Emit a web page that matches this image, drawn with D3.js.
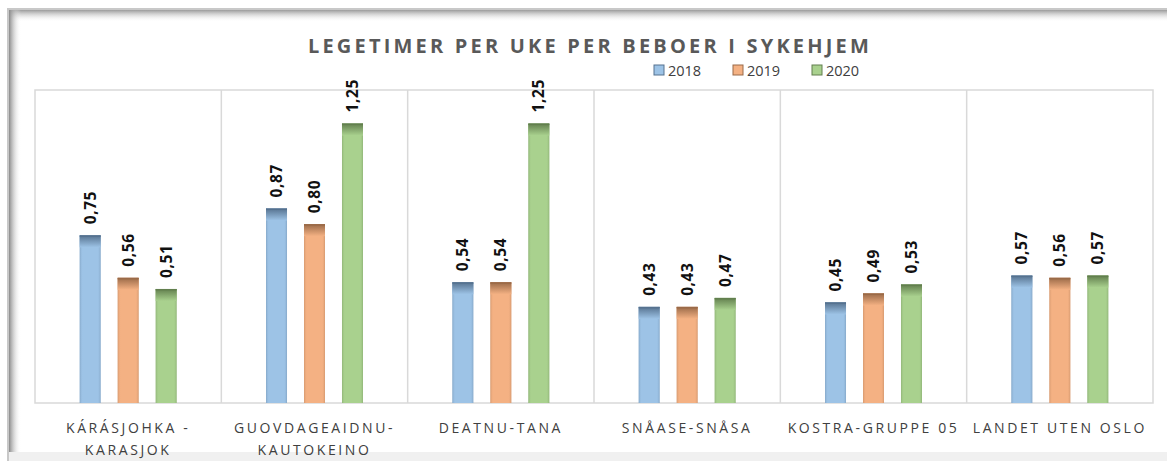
<!DOCTYPE html>
<html>
<head>
<meta charset="utf-8">
<script src="https://cdn.jsdelivr.net/npm/d3@7"></script>
<style>
  body { margin: 0; background: #fff; }
  text { font-family: "Open Sans", "Liberation Sans", sans-serif; }
</style>
</head>
<body>
<div id="chart"></div>
<script>
var categories = [["KÁRÁSJOHKA -", "KARASJOK"], ["GUOVDAGEAIDNU-", "KAUTOKEINO"], ["DEATNU-TANA"],
                  ["SNÅASE-SNÅSA"], ["KOSTRA-GRUPPE 05"], ["LANDET UTEN OSLO"]];
var years = ["2018", "2019", "2020"];
var v2018 = [0.75, 0.87, 0.54, 0.43, 0.45, 0.57];
var v2019 = [0.56, 0.80, 0.54, 0.43, 0.49, 0.56];
var v2020 = [0.51, 1.25, 1.25, 0.47, 0.53, 0.57];
var series = [v2018, v2019, v2020];

var colors = [
  {light: "#9dc3e6", dark: "#56728f"},
  {light: "#f4b183", dark: "#9a6a48"},
  {light: "#a9d18e", dark: "#627f4e"}
];

var W = 1167, H = 461;
var plot = {left: 35, right: 1153, top: 90, bottom: 403};
var groupW = 97;

var svg = d3.select("#chart").append("svg")
    .attr("width", W)
    .attr("height", H);

var defs = svg.append("defs");

// frame shadows
var gTop = defs.append("linearGradient").attr("id", "shTop").attr("x1", 0).attr("y1", 0).attr("x2", 0).attr("y2", 1);
gTop.append("stop").attr("offset", 0).attr("stop-color", "#9a9a9a");
gTop.append("stop").attr("offset", 1).attr("stop-color", "#ffffff").attr("stop-opacity", 0);
var gLeft = defs.append("linearGradient").attr("id", "shLeft").attr("x1", 0).attr("y1", 0).attr("x2", 1).attr("y2", 0);
gLeft.append("stop").attr("offset", 0).attr("stop-color", "#8a8a8a");
gLeft.append("stop").attr("offset", 1).attr("stop-color", "#ffffff").attr("stop-opacity", 0);

colors.forEach(function(c, i) {
  var g = defs.append("linearGradient").attr("id", "cap" + i)
      .attr("x1", 0).attr("y1", 0).attr("x2", 0).attr("y2", 1);
  g.append("stop").attr("offset", 0).attr("stop-color", c.dark);
  g.append("stop").attr("offset", 1).attr("stop-color", c.light);
  var h = defs.append("linearGradient").attr("id", "side" + i)
      .attr("x1", 0).attr("y1", 0).attr("x2", 1).attr("y2", 0);
  h.append("stop").attr("offset", 0).attr("stop-color", c.dark).attr("stop-opacity", 0.35);
  h.append("stop").attr("offset", 0.15).attr("stop-color", c.light).attr("stop-opacity", 0);
  h.append("stop").attr("offset", 0.85).attr("stop-color", c.light).attr("stop-opacity", 0);
  h.append("stop").attr("offset", 1).attr("stop-color", c.dark).attr("stop-opacity", 0.35);
});

// outer frame
svg.append("rect").attr("x", 0).attr("y", 0).attr("width", W).attr("height", H).attr("fill", "#ffffff");
svg.append("rect").attr("x", 7).attr("y", 8).attr("width", W - 7).attr("height", 2).attr("fill", "#c8c8c8");
svg.append("rect").attr("x", 7).attr("y", 10).attr("width", W - 7).attr("height", 12).attr("fill", "url(#shTop)");
svg.append("rect").attr("x", 7).attr("y", 10).attr("width", 2).attr("height", H - 10).attr("fill", "#c8c8c8");
svg.append("rect").attr("x", 9).attr("y", 10).attr("width", 12).attr("height", H - 10).attr("fill", "url(#shLeft)");
svg.append("rect").attr("x", 9).attr("y", 452).attr("width", W - 9).attr("height", 9).attr("fill", "#f0f0f0");

var x0 = d3.scaleBand().domain(d3.range(categories.length)).range([plot.left, plot.right]);
var x1 = d3.scaleBand().domain(d3.range(years.length)).range([0, groupW]).paddingInner(0.447);
var y = d3.scaleLinear().domain([0, 1.4]).range([plot.bottom, plot.top]);

// plot box and category dividers
svg.append("rect")
    .attr("x", plot.left).attr("y", plot.top)
    .attr("width", plot.right - plot.left).attr("height", plot.bottom - plot.top)
    .attr("fill", "none").attr("stroke", "#d9d9d9").attr("stroke-width", 1.5);

svg.selectAll(".div").data(d3.range(1, categories.length)).enter().append("line")
    .attr("x1", function(d) { return x0(d); }).attr("x2", function(d) { return x0(d); })
    .attr("y1", plot.top).attr("y2", plot.bottom)
    .attr("stroke", "#d9d9d9").attr("stroke-width", 1.5);

var groups = svg.selectAll(".cat").data(categories).enter().append("g")
    .attr("transform", function(d, i) { return "translate(" + (x0(i) + (x0.bandwidth() - groupW) / 2) + ",0)"; });

groups.each(function(cat, ci) {
  var g = d3.select(this);
  series.forEach(function(vals, si) {
    var v = vals[ci];
    var bx = x1(si), bw = x1.bandwidth(), by = y(v), bh = y(0) - y(v);
    g.append("rect").attr("x", bx).attr("y", by).attr("width", bw).attr("height", bh)
        .attr("fill", colors[si].light);
    g.append("rect").attr("x", bx).attr("y", by).attr("width", bw).attr("height", bh)
        .attr("fill", "url(#side" + si + ")");
    g.append("rect").attr("x", bx).attr("y", by).attr("width", bw).attr("height", Math.min(12, bh))
        .attr("fill", "url(#cap" + si + ")");
    g.append("rect").attr("x", bx).attr("y", by).attr("width", bw).attr("height", 1.5)
        .attr("fill", colors[si].dark);
    g.append("text")
        .attr("transform", "translate(" + (bx + bw / 2 + 5.5) + "," + (by - 11) + ") rotate(-90)")
        .attr("text-anchor", "start")
        .attr("font-size", 15.5).attr("font-weight", "bold").attr("fill", "#111")
        .attr("letter-spacing", 0.6)
        .text(d3.format(".2f")(v).replace(".", ","));
  });
  var t = g.append("text").attr("text-anchor", "middle").attr("font-size", 14)
      .attr("fill", "#404040").attr("letter-spacing", 2.6);
  cat.forEach(function(line, li) {
    t.append("tspan").attr("x", groupW / 2).attr("y", 433 + li * 22).text(line);
  });
});

svg.append("text").attr("x", 590).attr("y", 53).attr("text-anchor", "middle")
    .attr("font-size", 20).attr("font-weight", "bold").attr("fill", "#595959")
    .attr("letter-spacing", 3.2)
    .text("LEGETIMER PER UKE PER BEBOER I SYKEHJEM");

var leg = svg.selectAll(".leg").data(years).enter().append("g")
    .attr("transform", function(d, i) { return "translate(" + (654 + i * 79) + ",65)"; });
leg.append("rect").attr("width", 10).attr("height", 10)
    .attr("fill", function(d, i) { return colors[i].light; })
    .attr("stroke", function(d, i) { return colors[i].dark; }).attr("stroke-width", 1);
leg.append("text").attr("x", 14).attr("y", 10.5).attr("font-size", 14.5).attr("fill", "#404040").text(function(d) { return d; });
</script>
</body>
</html>
